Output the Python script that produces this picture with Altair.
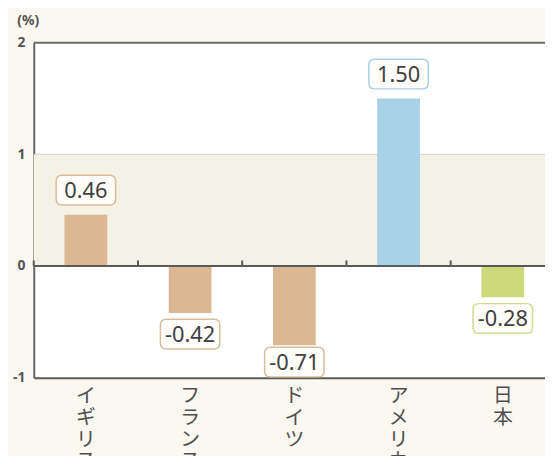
import altair as alt
import pandas as pd

countries = ["イギリス", "フランス", "ドイツ", "アメリカ", "日本"]
values = [0.46, -0.42, -0.71, 1.50, -0.28]
bar_colors = ["#dbb793", "#dbb793", "#dbb793", "#a9d1e7", "#cdda79"]
box_colors = ["#d9bc9c", "#d9bc9c", "#d9bc9c", "#a9cfe4", "#cfdc8e"]
y_ticks = [-1, 0, 1, 2]

df = pd.DataFrame({"country": countries, "value": values})
band_df = pd.DataFrame({"lo": [0], "hi": [1]})

xscale = alt.Scale(domain=countries, range=[0, 526], paddingInner=0, paddingOuter=0)
yscale = alt.Scale(domain=[-1, 2], nice=False, zero=False)

x_axis = alt.Axis(
    labelExpr="split(datum.label, '')", labelAngle=0, labelFontSize=20,
    labelLineHeight=22, labelColor="#4f4f4f", labelPadding=8, ticks=False,
    domainColor="#5a5a5a", domainWidth=2, title=None,
    labelFont="Noto Sans CJK JP", labelBaseline="top",
)
y_axis = alt.Axis(
    values=y_ticks, format="d", grid=False, ticks=False, domainColor="#666666", domainWidth=2,
    labelFontSize=14, labelFontWeight="bold", labelColor="#555555", labelPadding=9,
    labelFont="Noto Sans", labelExpr="replace(datum.label, '−', '-')",
    title="(%)", titleAngle=0, titleX=-6, titleY=-22, titleAlign="center",
    titleBaseline="middle", titleFontSize=14, titleFontWeight="bold",
    titleColor="#555555", titleFont="Noto Sans",
)

band = alt.Chart(band_df).mark_rect(color="#f4f2e5").encode(
    y=alt.Y("lo:Q", scale=yscale, axis=y_axis), y2="hi:Q"
)
grid1 = alt.Chart(band_df).mark_rule(color="#d2d2cb", strokeWidth=1).encode(
    y=alt.datum(1)
)
top_rule = alt.Chart(band_df).mark_rule(color="#6a6a6a", strokeWidth=2).encode(
    y=alt.datum(2)
)
bars = alt.Chart(df).mark_bar(width=alt.RelativeBandSize(0.41)).encode(
    x=alt.X("country:N", sort=None, scale=xscale, axis=x_axis),
    y=alt.Y("value:Q", axis=y_axis),
    color=alt.Color("country:N", scale=alt.Scale(domain=countries, range=bar_colors), legend=None),
)
zero_rule = alt.Chart(band_df).mark_rule(color="#5a5a5a", strokeWidth=2).encode(
    y=alt.datum(0)
)
ticks = alt.Chart(df).mark_rule(color="#5a5a5a", strokeWidth=2).encode(
    x=alt.X("country:N", sort=None, bandPosition=0),
    y=alt.datum(0), y2=alt.datum(0.05),
)

box_path = ("M -0.8,-0.5 L 0.8,-0.5 Q 1,-0.5 1,-0.3 L 1,0.3 Q 1,0.5 0.8,0.5 "
            "L -0.8,0.5 Q -1,0.5 -1,0.3 L -1,-0.3 Q -1,-0.5 -0.8,-0.5 Z")

lab_base = alt.Chart(df).transform_calculate(
    ly="datum.value >= 0 ? datum.value + 0.22 : max(datum.value - 0.19, -0.86)",
    txt="replace(format(datum.value, '.2f'), '−', '-')",
)
boxes = lab_base.mark_point(
    shape=box_path, size=3600, filled=False, fill="#fffefb", fillOpacity=1,
    strokeWidth=1.5, opacity=1,
).encode(
    x=alt.X("country:N", sort=None),
    y=alt.Y("ly:Q", axis=y_axis),
    stroke=alt.Stroke("country:N", scale=alt.Scale(domain=countries, range=box_colors), legend=None),
)
texts = lab_base.mark_text(
    fontSize=22, font="Noto Sans", color="#3f3f3f", baseline="middle", dy=1
).encode(
    x=alt.X("country:N", sort=None),
    y=alt.Y("ly:Q", axis=y_axis),
    text="txt:N",
)

chart = alt.layer(band, grid1, bars, top_rule, zero_rule, ticks, boxes, texts).properties(
    width=516, height=338,
    autosize=alt.AutoSizeParams(type="none"),
    padding={"left": 26, "top": 33, "right": 0, "bottom": 77},
    background="#faf8f1",
).configure_view(fill="white", stroke=None)

chart.save("out.html", embed_options={"renderer": "svg", "actions": False})
